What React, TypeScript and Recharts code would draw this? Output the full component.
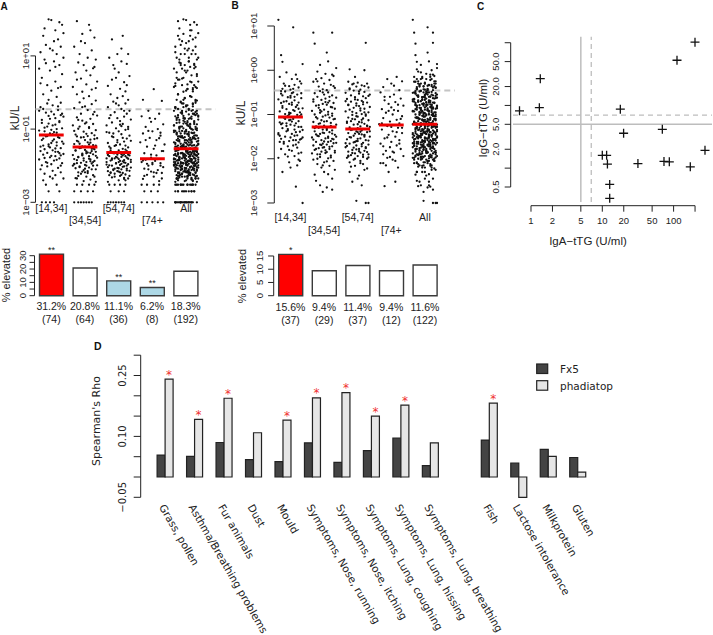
import React from 'react';
import {
  ScatterChart,
  Scatter,
  BarChart,
  Bar,
  XAxis,
  YAxis,
  ReferenceLine,
  LabelList,
  Legend,
  Cell
} from 'recharts';

const ageGroups = ['[14,34]', '[34,54]', '[54,74]', '[74+', 'All'];
const cutoff = 0.35; // kU/L, grey dashed line

// A: Fx5 per age group, each point = [jitter step, log10 kU/L]
const fx5Age14 = [
  [-2, 2.0], [0, 1.98], [3, 1.7], [8, 1.85], [-6, 1.55], [5, 1.45], [-4, 1.3], [7, 1.25], [1, 1.15], [-8, 1.1], [4, 1.05], [9, 1.62],
  [-5, 0.9], [2, 0.85], [6, 0.75], [-1, 0.6], [8, 0.5], [-7, 0.4], [3, 0.3], [-3, 0.2], [5, 0.12], [0, 0.05], [-9, 0.65], [9, 0.95],
  [-6, -0.05], [4, -0.12], [-2, -0.2], [7, -0.28], [1, -0.35], [-8, -0.4], [5, -0.48], [-4, -0.55], [2, -0.6], [9, -0.66], [-1, -0.72], [6, -0.78],
  [-7, -0.83], [3, -0.88], [-3, -0.93], [8, -0.98], [0, -1.02], [-5, -1.06], [4, -1.1], [-9, -0.5], [7, -0.62], [-2, -0.85], [1, -1.14],
  [-4, -1.2], [6, -1.24], [2, -1.28], [-7, -1.3], [8, -1.34], [0, -1.38], [-2, -1.42], [4, -1.45], [-8, -1.48], [7, -1.52], [-5, -1.55], [1, -1.58],
  [5, -1.62], [-3, -1.65], [9, -1.68], [-6, -1.7], [3, -1.74], [-1, -1.77], [6, -1.8], [-9, -1.83], [2, -1.86], [-4, -1.9], [8, -1.93], [0, -1.96],
  [-7, -1.99], [4, -1.36], [-1, -1.5], [3, -1.62], [-6, -1.45], [7, -1.72],
  [-3, -2.02], [5, -2.06], [-8, -2.1], [1, -2.14], [7, -2.18], [-5, -2.22], [3, -2.26], [-1, -2.3], [9, -2.35], [-6, -2.4],
  [-4, -2.52], [4, -2.52], [-2, -2.7], [6, -2.7], [-7, -3], [-4, -3], [-1, -3], [2, -3],
  [2, 1.4], [-5, 1.75], [6, 1.92], [-1, 1.2], [3, 0.7], [-8, 0.25], [7, 0.15], [-4, 0.8],
  [-3, -0.3], [5, -0.38], [-6, -0.45], [0, -0.52], [8, -0.58], [-2, -0.64], [3, -0.7], [-7, -0.75], [6, -0.81], [1, -0.9], [-5, -0.96], [4, -1.0],
  [-9, -1.04], [2, -1.08], [-1, -1.12], [-3, -1.19], [5, -1.22], [-6, -1.26], [1, -1.32], [9, -1.4], [-2, -1.47], [3, -1.53], [-8, -1.6], [6, -1.66],
  [0, -1.73], [-5, -1.79], [4, -1.84], [-3, -1.92], [7, -2.0], [1, -2.35]
];
const fx5Age34 = [
  [-6, 1.95], [3, 1.85], [-2, 1.6], [7, 1.5], [0, 1.35], [-8, 1.25], [5, 1.15], [-4, 1.05],
  [2, 0.95], [8, 0.9], [-5, 0.82], [-1, 0.75], [6, 0.66], [-7, 0.55], [4, 0.47], [-3, 0.38], [9, 0.3], [1, 0.22], [-9, 0.15], [5, 0.08], [-2, 0.02], [7, 0.7],
  [-6, -0.05], [3, -0.1], [-1, -0.16], [8, -0.22], [-4, -0.27], [5, -0.32], [0, -0.38], [-8, -0.43], [2, -0.48], [7, -0.53], [-3, -0.58], [9, -0.63],
  [-6, -0.68], [4, -0.72], [-2, -0.77], [1, -0.82], [6, -0.86], [-9, -0.9], [3, -0.95], [-5, -0.99], [8, -1.03], [-1, -1.07], [5, -1.11], [-7, -1.15],
  [2, -1.19], [-3, -1.23], [7, -1.27], [0, -1.3], [-5, -1.34], [4, -1.37], [-8, -1.41], [6, -1.44], [-2, -1.47], [1, -1.13], [9, -1.25], [-4, -0.93],
  [3, -1.42], [-6, -1.2],
  [-4, -1.52], [5, -1.54], [0, -1.57], [-7, -1.59], [8, -1.62], [2, -1.64], [-2, -1.67], [6, -1.69], [-9, -1.71], [3, -1.74], [-5, -1.76], [9, -1.78],
  [-1, -1.8], [4, -1.83], [-6, -1.85], [7, -1.87], [1, -1.9], [-3, -1.92], [5, -1.94], [-8, -1.96], [0, -1.98], [6, -2.0], [-4, -2.02], [3, -2.05],
  [-7, -2.07], [8, -2.1], [-1, -2.12], [2, -2.15], [-5, -2.18], [5, -1.6], [-2, -1.72], [1, -1.66], [-6, -1.93], [7, -1.55], [4, -1.88], [-8, -1.82],
  [0, -2.08], [9, -1.99],
  [-3, -2.22], [6, -2.26], [1, -2.3], [-7, -2.34], [4, -2.38], [-1, -2.42], [8, -2.44], [-5, -2.28],
  [-6, -2.52], [-2, -2.52], [3, -2.52], [7, -2.52], [-8, -2.7], [-3, -2.7], [2, -2.7], [6, -2.7],
  [-8, -3], [-5, -3], [-3, -3], [-1, -3], [1, -3], [3, -3], [5, -3],
  [4, 1.7], [-3, 1.4], [1, 0.6], [-6, 0.35], [8, 0.12],
  [-2, -0.4], [6, -0.6], [-5, -0.75], [0, -0.85], [3, -0.97], [-8, -1.05], [7, -1.17], [-1, -1.22], [4, -1.29], [-6, -1.32], [2, -1.36], [-4, -1.4],
  [8, -1.45], [0, -1.48], [-3, -1.51], [6, -1.53], [-7, -1.58], [1, -1.61], [4, -1.65], [-2, -1.7], [8, -1.73], [-5, -1.77], [3, -1.81], [-1, -1.86],
  [6, -1.9], [-8, -1.95], [1, -2.0], [-4, -2.04], [5, -2.1], [-2, -2.16], [2, -2.2], [-6, -2.35], [0, -2.18], [7, -2.3], [-9, -2.0]
];
const fx5Age54 = [
  [-5, 1.45], [3, 1.55], [-1, 1.05], [7, 1.05],
  [-7, 0.95], [2, 0.85], [6, 0.78], [-3, 0.65], [0, 0.55], [8, 0.45], [-5, 0.35], [4, 0.28], [-8, 0.18], [1, 0.1], [5, 0.03], [-2, 0.4],
  [-6, -0.05], [3, -0.1], [-1, -0.15], [7, -0.2], [-4, -0.25], [5, -0.3], [0, -0.35], [-8, -0.4], [2, -0.45], [8, -0.5], [-3, -0.54], [6, -0.58],
  [-6, -0.62], [4, -0.66], [-1, -0.7], [9, -0.74], [1, -0.78], [-5, -0.82], [3, -0.86], [-9, -0.9], [7, -0.94], [-2, -0.98], [5, -1.02], [0, -1.06],
  [-7, -1.1], [2, -1.14], [8, -1.18], [-4, -1.22], [6, -1.26], [-1, -1.3], [4, -1.34], [-8, -1.38], [1, -1.42], [-3, -1.46], [7, -1.5], [3, -1.54],
  [-6, -1.58], [0, -1.62], [-5, -1.2], [9, -1.32], [-2, -1.44], [5, -1.56], [-9, -1.08], [2, -0.92], [-7, -1.48], [6, -1.6],
  [-4, -1.66], [4, -1.68], [-1, -1.7], [8, -1.72], [-7, -1.74], [2, -1.76], [6, -1.78], [-3, -1.8], [0, -1.82], [9, -1.84], [-6, -1.86], [3, -1.88],
  [-9, -1.9], [5, -1.92], [-2, -1.94], [7, -1.96], [1, -1.98], [-5, -2.0], [4, -2.02], [-8, -2.04], [-1, -2.06], [6, -2.08], [2, -2.1], [-4, -2.12],
  [8, -2.14], [0, -2.16], [-6, -2.18], [3, -2.2], [-3, -2.22], [5, -2.24], [-7, -2.26], [1, -2.28], [7, -1.7], [-2, -1.76], [4, -1.85], [-9, -1.97],
  [9, -2.05], [-5, -1.8], [0, -1.9], [6, -2.0], [-1, -2.15], [3, -1.72], [-8, -1.68], [2, -1.95], [-3, -2.08],
  [-5, -2.32], [4, -2.36], [0, -2.4], [-8, -2.44], [7, -2.35],
  [-7, -2.52], [-3, -2.52], [1, -2.52], [5, -2.52], [-6, -2.7], [0, -2.7], [4, -2.7],
  [-8, -3], [-6, -3], [-4, -3], [-2, -3], [0, -3], [2, -3], [4, -3],
  [2, 1.2], [-4, 0.75], [6, 0.2],
  [-2, -0.3], [4, -0.5], [-7, -0.7], [1, -0.88], [7, -1.0], [-4, -1.12], [3, -1.24], [-1, -1.36], [5, -1.45], [-6, -1.52], [0, -1.58], [8, -1.63],
  [-3, -1.66], [2, -1.69], [-8, -1.71], [5, -1.74], [-1, -1.78], [7, -1.81], [-5, -1.84], [1, -1.87], [4, -1.91], [-2, -1.93], [-7, -1.99], [3, -2.03],
  [0, -2.07], [-4, -2.1], [6, -2.13], [-6, -2.2], [2, -2.25], [8, -2.28], [-3, -2.3], [1, -2.18], [5, -2.4], [-8, -2.15], [9, -1.9], [-9, -1.8], [4, -2.33]
];
const fx5Age74 = [
  [1, 0.09], [-7, -0.2], [7, -0.23],
  [-3, -0.5], [5, -0.58], [-8, -0.65], [2, -0.72], [-1, -0.8], [8, -0.87], [-5, -0.94], [4, -1.0], [0, -1.06], [-7, -1.12], [6, -1.18], [-2, -1.24],
  [3, -1.3], [-9, -1.36], [9, -1.42], [-4, -1.48], [1, -1.54], [7, -1.6], [-6, -1.66], [3, -1.72], [-1, -1.78], [5, -1.25], [-3, -1.05],
  [-5, -1.84], [2, -1.87], [-8, -1.9], [6, -1.93], [0, -1.96], [-3, -2.0], [8, -2.04], [-6, -2.08], [4, -2.12], [-1, -2.16], [7, -2.2], [-4, -2.25],
  [1, -2.3], [-7, -2.36], [5, -2.42],
  [-8, -2.52], [-4, -2.52], [1, -2.52], [5, -2.52], [-6, -2.7], [-1, -2.7], [4, -2.7],
  [-8, -3], [-4, -3], [0, -3], [4, -3], [8, -3],
  [-2, -0.7], [6, -1.1], [-5, -1.3], [2, -1.45], [8, -1.6], [-1, -1.7], [4, -1.82], [-7, -1.86], [0, -1.92], [6, -2.0], [-3, -2.1], [3, -2.2],
  [-6, -2.28], [1, -2.18], [-4, -1.95], [7, -2.35]
];
const fx5Medians = [-1.16, -1.49, -1.64, -1.81, -1.54];
const fx5Elevated = [31.2, 20.8, 11.1, 6.2, 18.3];
const fx5ElevatedN = [74, 64, 36, 8, 192];
const fx5Stars = ['**', '', '**', '**', ''];

// B: phadiatop per age group, [jitter step, log10 kU/L]
const phadAge14 = [
  [-9, 1.14], [2, 0.97], [-7, 0.34], [-6, 0.19], [9, 0.14],
  [-3, -0.05], [4, -0.1], [-8, -0.15], [1, -0.2], [7, -0.25], [-5, -0.3], [3, -0.33], [-1, -0.36], [6, -0.39], [-6, -0.42], [0, -0.44], [8, -0.3],
  [-4, -0.48], [2, -0.5], [-7, -0.53], [5, -0.55], [0, -0.58], [-2, -0.61], [8, -0.63], [-9, -0.66], [3, -0.68], [-5, -0.71], [6, -0.73], [-1, -0.76],
  [1, -0.78], [-6, -0.81], [4, -0.83], [9, -0.86], [-3, -0.88], [2, -0.9], [-8, -0.93], [7, -0.95], [0, -0.97], [-4, -0.99], [5, -1.01], [-2, -1.03],
  [3, -0.6], [-7, -0.74], [6, -0.87], [-1, -0.96], [1, -0.52], [8, -1.0],
  [-5, -1.07], [2, -1.1], [-1, -1.13], [6, -1.15], [-8, -1.18], [4, -1.2], [0, -1.23], [-3, -1.26], [8, -1.28], [-6, -1.31], [3, -1.34], [-2, -1.36],
  [7, -1.39], [-9, -1.42], [1, -1.44], [5, -1.47], [-4, -1.5], [9, -1.52], [-7, -1.55], [2, -1.58], [-1, -1.6], [6, -1.63], [-5, -1.66], [4, -1.68],
  [0, -1.12], [-3, -1.38], [3, -1.25], [-8, -1.48], [7, -1.57], [-6, -1.2],
  [-2, -1.72], [5, -1.75], [-7, -1.78], [1, -1.82], [8, -1.86], [-4, -1.9], [3, -1.94], [-9, -1.98], [6, -2.02], [-1, -2.08],
  [5, -2.15], [-6, -2.3], [4, -2.63], [9, -3],
  [5, -0.2], [-4, -0.35], [2, -0.42], [-7, -0.47], [8, -0.52], [0, -0.62], [-3, -0.7], [5, -0.79], [-6, -0.85], [3, -0.92], [-1, -1.0], [7, -1.04],
  [-4, -1.1], [1, -1.16], [-7, -1.22], [6, -1.28], [-2, -1.33], [4, -1.4], [-9, -1.45], [0, -1.52], [8, -1.55], [-5, -1.62], [2, -1.7], [-1, -1.8],
  [6, -1.88], [-8, -1.62], [3, -1.48], [-3, -1.2], [9, -1.35], [1, -0.73], [-6, -0.57], [4, -1.58], [-2, -1.95], [7, -2.05], [0, -2.2]
];
const phadAge34 = [
  [-8, 0.85], [6, 0.85], [-7, 0.6], [3, 0.2], [-3, 0.12], [9, 0.05],
  [-5, -0.03], [1, -0.08], [7, -0.13], [-2, -0.18], [4, -0.22], [-8, -0.26], [0, -0.3], [5, -0.33], [-4, -0.37], [8, -0.4], [-1, -0.43], [2, -0.45],
  [-6, -0.2], [6, -0.1],
  [-3, -0.47], [3, -0.5], [-7, -0.52], [0, -0.55], [6, -0.57], [-5, -0.6], [9, -0.62], [1, -0.64], [-2, -0.67], [4, -0.69], [-8, -0.71], [7, -0.74],
  [-1, -0.76], [2, -0.78], [-6, -0.8], [5, -0.83], [-4, -0.85], [8, -0.87], [0, -0.89], [-9, -0.92], [3, -0.94], [-3, -0.96], [6, -0.98], [-7, -1.0],
  [1, -1.02], [-1, -1.05], [4, -1.07], [-5, -1.09], [7, -1.11], [-2, -1.13], [2, -1.15], [-8, -1.17], [5, -1.19], [-4, -1.21], [9, -1.23], [0, -1.25],
  [-6, -1.27], [3, -0.73], [-3, -0.9], [6, -1.03],
  [-4, -1.3], [2, -1.32], [-1, -1.34], [6, -1.36], [-7, -1.38], [4, -1.4], [0, -1.42], [-3, -1.44], [8, -1.46], [-5, -1.48], [3, -1.5], [-9, -1.52],
  [1, -1.54], [7, -1.56], [-2, -1.58], [5, -1.6], [-6, -1.62], [9, -1.64], [-1, -1.66], [2, -1.68], [-8, -1.7], [6, -1.72], [0, -1.74], [-4, -1.76],
  [4, -1.78], [-7, -1.8], [8, -1.82], [-2, -1.84], [1, -1.87], [-5, -1.9], [5, -1.93], [-3, -1.96], [3, -1.99], [-8, -2.02], [7, -2.05], [0, -2.08],
  [-6, -1.45], [3, -1.62], [-1, -1.75], [6, -1.55], [-3, -1.68], [2, -1.85],
  [-5, -2.12], [4, -2.16], [-2, -2.2], [8, -2.25], [0, -2.3], [-7, -2.36], [6, -2.45], [-3, -2.6], [2, -2.65], [-1, -2.75],
  [2, 0.4], [-5, -0.25], [7, -0.36], [-1, -0.5], [4, -0.6], [-8, -0.66], [1, -0.72], [-4, -0.79], [6, -0.84], [-2, -0.93], [3, -1.0], [-6, -1.06],
  [8, -1.1], [0, -1.16], [-3, -1.2], [5, -1.26], [-7, -1.31], [2, -1.35], [-1, -1.41], [6, -1.43], [-4, -1.49], [3, -1.53], [-8, -1.57], [0, -1.61],
  [7, -1.65], [-2, -1.69], [4, -1.73], [-6, -1.78], [1, -1.81], [8, -1.86], [-3, -1.9], [5, -1.97], [-5, -2.0], [2, -2.06], [-9, -1.88], [9, -1.5],
  [-1, -2.15], [3, -2.35], [-6, -2.5], [6, -2.7]
];
const phadAge54 = [
  [6, 0.62], [-6, 0.02], [5, 0.0], [-2, -0.15],
  [-7, -0.26], [0, -0.28], [7, -0.3], [-4, -0.32], [3, -0.34], [-1, -0.37], [8, -0.39], [-6, -0.41], [2, -0.44], [-3, -0.46], [5, -0.49], [-9, -0.51],
  [1, -0.53], [9, -0.55], [-5, -0.57], [4, -0.59],
  [-2, -0.61], [6, -0.63], [-8, -0.65], [0, -0.67], [3, -0.69], [-5, -0.71], [7, -0.73], [-1, -0.75], [4, -0.77], [-7, -0.79], [1, -0.81], [9, -0.83],
  [-3, -0.85], [5, -0.87], [-6, -0.89], [2, -0.91], [-9, -0.93], [8, -0.95], [-1, -0.97], [3, -0.99], [-4, -1.01], [6, -1.03], [0, -1.05], [-7, -1.07],
  [4, -1.09], [-2, -1.11], [8, -1.13], [-5, -1.15], [1, -1.17], [-8, -1.19], [5, -1.21], [-3, -1.23], [7, -1.25], [2, -1.27], [-6, -1.29], [0, -1.31],
  [-1, -0.8], [5, -0.95], [-4, -1.1], [3, -1.18], [-9, -0.7], [9, -1.28],
  [-4, -1.34], [3, -1.36], [-1, -1.38], [7, -1.4], [-7, -1.42], [1, -1.44], [5, -1.46], [-3, -1.48], [9, -1.5], [-5, -1.52], [2, -1.54], [-8, -1.56],
  [6, -1.58], [0, -1.6], [-2, -1.62], [4, -1.64], [-6, -1.66], [8, -1.68], [-1, -1.7], [3, -1.72], [-9, -1.74], [6, -1.76], [1, -1.78], [-4, -1.8],
  [5, -1.82], [-7, -1.84], [2, -1.86], [-2, -1.88], [8, -1.9], [-5, -1.92], [0, -1.94], [4, -1.96], [-8, -1.98], [7, -2.0], [-3, -2.02], [2, -2.05],
  [-6, -2.08], [5, -1.5], [-1, -1.6], [3, -1.45], [-3, -1.75], [7, -1.85], [0, -1.4], [-7, -1.95],
  [4, -2.12], [-2, -2.16], [7, -2.22], [-6, -2.3], [1, -2.38], [-4, -2.52], [3, -2.6], [-1, -2.95], [6, -3], [8, -3],
  [-3, -0.3], [5, -0.36], [-6, -0.43], [1, -0.48], [8, -0.58], [-2, -0.66], [4, -0.72], [-7, -0.78], [2, -0.86], [-4, -0.94], [6, -1.0], [-1, -1.04],
  [3, -1.12], [-8, -1.16], [0, -1.22], [7, -1.26], [-5, -1.35], [2, -1.39], [-2, -1.43], [5, -1.47], [-6, -1.51], [0, -1.55], [8, -1.59], [-3, -1.63],
  [3, -1.67], [-8, -1.71], [6, -1.74], [-1, -1.79], [1, -1.83], [-4, -1.87], [4, -1.91], [-7, -1.93], [8, -1.97], [-2, -2.0], [2, -2.1], [-5, -2.18],
  [5, -2.25], [0, -2.45], [-9, -1.65], [9, -1.38]
];
const phadAge74 = [
  [4, -0.15], [-3, -0.2], [8, -0.25], [0, -0.3], [-6, -0.38], [6, -0.45],
  [-8, -0.5], [2, -0.55], [-1, -0.6], [7, -0.64], [-5, -0.68], [3, -0.72], [-2, -0.76], [9, -0.8], [0, -0.84], [-7, -0.88], [5, -0.92], [-4, -0.96],
  [1, -1.0], [8, -1.04], [-6, -1.08], [4, -1.12], [-1, -1.16], [6, -1.2], [-9, -1.22], [2, -0.9],
  [-3, -1.26], [5, -1.3], [-7, -1.34], [1, -1.38], [8, -1.42], [-2, -1.46], [3, -1.5], [-5, -1.54], [6, -1.58], [0, -1.62], [-8, -1.66], [4, -1.7],
  [-1, -1.74], [7, -1.78], [-4, -1.82], [2, -1.86], [-6, -1.9], [9, -1.94], [-3, -1.98], [1, -2.02],
  [-8, -2.1], [-6, -2.1], [5, -2.2], [-2, -2.3], [3, -2.52], [-5, -2.62],
  [2, -0.35], [-5, -0.6], [5, -0.78], [-2, -0.92], [7, -1.1], [-7, -1.2], [0, -1.28], [4, -1.4], [-3, -1.52], [6, -1.66], [-6, -1.72], [1, -1.84],
  [-1, -1.96], [3, -2.05], [-4, -2.15], [8, -1.3]
];
const phadMedians = [-1.054, -1.28, -1.325, -1.24, -1.22];
const phadElevated = [15.6, 9.4, 11.4, 9.4, 11.6];
const phadElevatedN = [37, 29, 37, 12, 122];
const phadStars = ['*', '', '', '', ''];

// C: tTG antibodies, U/ml
const igaTTG = [0.69, 1.31, 1.35, 17.9, 19.9, 10.0, 11.5, 11.8, 12.7, 12.7, 31.6, 69.5, 73.3, 87.1, 111.6, 199.6, 171.5, 275.6];
const iggTTG = [8.2, 9.2, 26.7, 8.7, 3.6, 1.6, 1.6, 1.16, 0.55, 0.33, 1.18, 4.16, 1.28, 1.26, 52.5, 102, 1.05, 1.92];
const ttgCutoff = 5;
const ttgCutoffAlt = 7;

// D: Spearman's rho per questionnaire item
const conditions = [
  'Grass, pollen', 'Asthma/Breathing problems', 'Fur animals', 'Dust', 'Mould',
  'Symptoms, Nose, running', 'Symptoms, Nose, itching', 'Symptoms, Lung, coughing',
  'Symptoms, Lung, hissing', 'Symptoms, Lung, breathing', '',
  'Fish', 'Lactose intolerance', 'Milkprotein', 'Gluten'
];
const rhoFx5 = [0.054, 0.051, 0.085, 0.043, 0.038, 0.084, 0.036, 0.065, 0.096, 0.028, null, 0.091, 0.034, 0.068, 0.048];
const rhoPhad = [0.241, 0.142, 0.194, 0.109, 0.14, 0.195, 0.208, 0.15, 0.177, 0.084, null, 0.182, -0.05, 0.051, 0.012];
const rhoPhadSig = [1, 1, 1, 0, 1, 1, 1, 1, 1, 0, 0, 1, 0, 0, 0];

const FONT = '"Liberation Sans", Arial, sans-serif';
const DFONT = '"DejaVu Sans", sans-serif';
const INK = '#222';
const JIT = 0.04;
const ageFills = ['#ff0000', '#ffffff', '#add8e6', '#add8e6', '#ffffff'];
const phadFills = ['#ff0000', '#ffffff', '#ffffff', '#ffffff', '#ffffff'];
const fx5Color = '#444444';
const phadColor = '#e6e6e6';

const cloud = (pts: number[][], g: number) => pts.map(([j, v]) => ({ x: g + j * JIT, y: v }));

const dot = (p: any) => <circle cx={p.cx} cy={p.cy} r={1.15} fill="#111" />;
const medianBar = (p: any) => (
  <line x1={p.cx - 12.4} x2={p.cx + 12.4} y1={p.cy} y2={p.cy} stroke="#ee0000" strokeWidth={3} />
);
const cross = (p: any) => (
  <g stroke="#111" strokeWidth={1.3}>
    <line x1={p.cx - 4.5} x2={p.cx + 4.5} y1={p.cy} y2={p.cy} />
    <line x1={p.cx} x2={p.cx} y1={p.cy - 4.5} y2={p.cy + 4.5} />
  </g>
);

const expLabel = (v: number) => '1e' + (v < 0 ? '\u2212' : '+') + String(Math.abs(v)).padStart(2, '0');

const vText = (x: number, y: number, label: string, size: number, family = FONT) => (
  <text x={x} y={y} transform={`rotate(-90 ${x} ${y})`} textAnchor="middle" dominantBaseline="central"
    fontSize={size} fontFamily={family} fill={INK}>{label}</text>
);

const box = (p: any) => ({
  x: p.x ?? p.viewBox?.x,
  y: p.y ?? p.viewBox?.y,
  w: p.width ?? p.viewBox?.width
});

function CloudPanel({ groups, medians, left, width, height, margin, yWidth, xHeight, xDomain, yDomain, yTicks, yLabelX, tickSize, rowY }: any) {
  const all = groups.flat();
  return (
    <div style={{ position: 'absolute', left, top: 0 }}>
      <ScatterChart width={width} height={height} margin={margin}>
        <XAxis type="number" dataKey="x" domain={xDomain} allowDataOverflow ticks={[1, 2, 3, 4, 5]} interval={0}
          axisLine={false} tickLine={false} height={xHeight}
          tick={(p: any) => {
            const i = p.payload.value - 1;
            return <text x={p.x} y={rowY[i % 2]} textAnchor="middle" dominantBaseline="central" fontSize={10.5}
              fontFamily={FONT} fill={INK}>{ageGroups[i]}</text>;
          }} />
        <YAxis type="number" dataKey="y" domain={yDomain} allowDataOverflow ticks={yTicks} interval={0} width={yWidth}
          axisLine={false} tickSize={tickSize} tickLine={{ stroke: INK }}
          tick={(p: any) => vText(yLabelX, p.y, expLabel(p.payload.value), 9.5)} />
        <ReferenceLine segment={[{ x: xDomain[0], y: -3 }, { x: xDomain[0], y: 1 }]} stroke={INK} ifOverflow="visible" />
        {groups.map((pts: number[][], i: number) => (
          <Scatter key={i} data={cloud(pts, i + 1)} shape={dot} isAnimationActive={false} />
        ))}
        <Scatter data={cloud(all, 5)} shape={dot} isAnimationActive={false} />
        <ReferenceLine y={Math.log10(cutoff)} stroke="#c4c4c4" strokeWidth={2} strokeDasharray="6 4" />
        <Scatter data={medians.map((m: number, i: number) => ({ x: i + 1, y: m }))} shape={medianBar} isAnimationActive={false} />
      </ScatterChart>
    </div>
  );
}

function ElevatedPanel({ values, counts, stars, fills, left, width, margin, yWidth, yMax, yTicks, yLabels, yLabelX, tickSize, pctY, nY }: any) {
  const data = values.map((v: number, i: number) => ({ pos: i + 1, pct: v, n: counts[i], star: stars[i] }));
  return (
    <div style={{ position: 'absolute', left, top: 240 }}>
      <BarChart width={width} height={90} margin={margin} data={data}>
        <XAxis type="number" dataKey="pos" domain={[0.5, 5.5]} ticks={[1, 2, 3, 4, 5]} interval={0}
          axisLine={false} tickLine={false} height={34.3}
          tick={(p: any) => {
            const i = p.payload.value - 1;
            return (
              <g fontSize={10.5} fontFamily={FONT} fill={INK} textAnchor="middle">
                <text x={p.x} y={pctY} dominantBaseline="central">{values[i].toFixed(1)}%</text>
                <text x={p.x} y={nY} dominantBaseline="central">({counts[i]})</text>
              </g>
            );
          }} />
        <YAxis type="number" domain={[0, yMax]} ticks={yTicks} interval={0} width={yWidth}
          axisLine={false} tickSize={tickSize} tickLine={{ stroke: INK }}
          tick={(p: any) => {
            const v = p.payload.value;
            return yLabels.includes(v) ? vText(yLabelX, p.y, String(v), 9.5) : <g />;
          }} />
        <ReferenceLine segment={[{ x: 0.5, y: 0 }, { x: 0.5, y: yTicks[yTicks.length - 1] }]} stroke={INK} ifOverflow="visible" />
        <Bar dataKey="pct" barSize={24} stroke="#3a3a3a" strokeWidth={1.4} isAnimationActive={false}>
          {data.map((d: any, i: number) => <Cell key={i} fill={fills[i]} />)}
          <LabelList dataKey="star" content={(p: any) => {
            if (!p.value) return null;
            const b = box(p);
            return <text x={b.x + b.w / 2} y={b.y - 1} textAnchor="middle" fontSize={9} fontFamily={FONT} fill={INK}>{p.value}</text>;
          }} />
        </Bar>
      </BarChart>
    </div>
  );
}

function TtgPanel() {
  const data = igaTTG.map((a, i) => ({ x: Math.log10(a), y: Math.log10(iggTTG[i]) }));
  const xTicks = [1, 2, 5, 10, 20, 50, 100, 200];
  const yTicks = [0.5, 1, 2, 5, 10, 20, 50, 100];
  const yShown = [0.5, 2, 5, 20, 50];
  const xDom = [-0.2847, 2.5386];
  const yDom = [-0.5992, 2.096];
  const grey = '#bdbdbd';
  return (
    <div style={{ position: 'absolute', left: 465, top: 20 }}>
      <ScatterChart width={248} height={235} margin={{ top: 16.7, right: 1, bottom: 0, left: 0 }}>
        <XAxis type="number" dataKey="x" domain={xDom} allowDataOverflow ticks={xTicks.map(Math.log10)} interval={0}
          axisLine={false} tickSize={6} tickLine={{ stroke: INK }} height={49.3}
          tick={(p: any) => {
            const v = Math.round(Math.pow(10, p.payload.value));
            return <text x={p.x} y={200} textAnchor="middle" dominantBaseline="central" fontSize={9.5}
              fontFamily={FONT} fill={INK}>{v === 200 ? '' : v}</text>;
          }} />
        <YAxis type="number" dataKey="y" domain={yDom} allowDataOverflow ticks={yTicks.map(Math.log10)} interval={0} width={45.7}
          axisLine={false} tickSize={6} tickLine={{ stroke: INK }}
          tick={(p: any) => {
            const v = Math.pow(10, p.payload.value);
            const shown = yShown.find(s => Math.abs(s - v) < 1e-6);
            return shown ? vText(30.5, p.y, shown.toFixed(1), 9.5) : <g />;
          }} />
        <ReferenceLine segment={[{ x: 0, y: yDom[0] }, { x: Math.log10(200), y: yDom[0] }]} stroke={INK} ifOverflow="visible" />
        <ReferenceLine segment={[{ x: xDom[0], y: Math.log10(0.5) }, { x: xDom[0], y: 2 }]} stroke={INK} ifOverflow="visible" />
        <ReferenceLine segment={[{ x: Math.log10(ttgCutoff), y: -0.5402 }, { x: Math.log10(ttgCutoff), y: yDom[1] }]} stroke={grey} strokeWidth={1.5} ifOverflow="visible" />
        <ReferenceLine segment={[{ x: Math.log10(ttgCutoffAlt), y: -0.5402 }, { x: Math.log10(ttgCutoffAlt), y: yDom[1] }]} stroke={grey} strokeWidth={1.3} strokeDasharray="5 4" ifOverflow="visible" />
        <ReferenceLine segment={[{ x: -0.2525, y: Math.log10(ttgCutoff) }, { x: xDom[1], y: Math.log10(ttgCutoff) }]} stroke={grey} strokeWidth={1.5} ifOverflow="visible" />
        <ReferenceLine segment={[{ x: -0.2525, y: Math.log10(ttgCutoffAlt) }, { x: xDom[1], y: Math.log10(ttgCutoffAlt) }]} stroke={grey} strokeWidth={1.3} strokeDasharray="5 4" ifOverflow="visible" />
        <Scatter data={data} shape={cross} isAnimationActive={false} />
      </ScatterChart>
    </div>
  );
}

function RhoPanel() {
  const data = conditions.map((c, i) => ({ name: c, fx5: rhoFx5[i], phad: rhoPhad[i], sig: rhoPhadSig[i] }));
  const ticks = [-0.05, 0, 0.05, 0.1, 0.15, 0.2, 0.25, 0.3];
  const shown: [number, string][] = [[-0.05, '\u22120.05'], [0.1, '0.10'], [0.25, '0.25']];
  const legendItems = [{ name: 'Fx5', fill: fx5Color }, { name: 'phadiatop', fill: phadColor }];
  return (
    <div style={{ position: 'absolute', left: 0, top: 330 }}>
      <BarChart width={713} height={305} margin={{ top: 25.2, right: 113, bottom: 7.7, left: 80.7 }} data={data} barGap={0} barSize={8}>
        <XAxis dataKey="name" interval={0} axisLine={false} tickLine={false} height={130} padding={{ left: 9.4, right: 7.8 }}
          tick={(p: any) => {
            const label = p.payload.value;
            if (!label) return <g />;
            const x = p.x - 6;
            const y = 177;
            return <text x={x} y={y} transform={`rotate(60 ${x} ${y})`} fontSize={10.5} fontFamily={DFONT} fill={INK}>{label}</text>;
          }} />
        <YAxis type="number" domain={[-0.05, 0.3]} ticks={ticks} interval={0} width={60} tickSize={7}
          axisLine={{ stroke: INK }} tickLine={{ stroke: INK }}
          tick={(p: any) => {
            const hit = shown.find(s => Math.abs(s[0] - p.payload.value) < 1e-9);
            return hit ? vText(122.5, p.y, hit[1], 10, DFONT) : <g />;
          }} />
        <Bar dataKey="fx5" fill={fx5Color} stroke="#222" strokeWidth={1.2} isAnimationActive={false} />
        <Bar dataKey="phad" fill={phadColor} stroke="#222" strokeWidth={1.2} isAnimationActive={false}>
          <LabelList dataKey="sig" content={(p: any) => {
            if (p.value !== 1) return null;
            const b = box(p);
            return <text x={b.x + b.w / 2} y={b.y - 0.5} textAnchor="middle" fontSize={12} fontFamily={DFONT} fill="#f03030">*</text>;
          }} />
        </Bar>
        <Legend layout="vertical" align="center" verticalAlign="middle" wrapperStyle={{ left: 535, top: 33, width: 130 }}
          content={() => (
            <svg width={130} height={32}>
              {legendItems.map((it, i) => (
                <g key={it.name}>
                  <rect x={1.7} y={1 + i * 16.7} width={11} height={9.5} fill={it.fill} stroke="#222" strokeWidth={1.2} />
                  <text x={25} y={5.8 + i * 16.7} dominantBaseline="central" fontSize={10.5} fontFamily={DFONT} fill={INK}>{it.name}</text>
                </g>
              ))}
            </svg>
          )} />
      </BarChart>
    </div>
  );
}

export default function App() {
  return (
    <div style={{ position: 'absolute', left: 0, top: 0, width: 713, height: 635, overflow: 'hidden', background: '#fff' }}>
      <CloudPanel groups={[fx5Age14, fx5Age34, fx5Age54, fx5Age74]} medians={fx5Medians}
        left={0} width={230} height={235} margin={{ top: 14, right: 14.3, bottom: 0, left: 0 }}
        yWidth={35.5} xHeight={29} xDomain={[0.5312, 5.878]} yDomain={[-3.101, 2.145]}
        yTicks={[-3, -1, 1]} yLabelX={25.7} tickSize={5} rowY={[208.3, 220]} />
      <CloudPanel groups={[phadAge14, phadAge34, phadAge54, phadAge74]} medians={phadMedians}
        left={236} width={225} height={240} margin={{ top: 15, right: 6, bottom: 0, left: 0 }}
        yWidth={38.3} xHeight={34} xDomain={[0.5179, 5.8958]} yDomain={[-3.0678, 1.2486]}
        yTicks={[-3, -2, -1, 0, 1]} yLabelX={17.3} tickSize={7} rowY={[217.3, 230]} />
      <ElevatedPanel values={fx5Elevated} counts={fx5ElevatedN} stars={fx5Stars} fills={ageFills}
        left={0} width={215} margin={{ top: 7.7, right: 12.5, bottom: 0, left: 0 }} yWidth={34.5}
        yMax={36} yTicks={[0, 5, 10, 15, 20, 25, 30]} yLabels={[0, 10, 20, 30]} yLabelX={23} tickSize={5}
        pctY={66} nY={79.3} />
      <ElevatedPanel values={phadElevated} counts={phadElevatedN} stars={phadStars} fills={phadFills}
        left={236} width={225} margin={{ top: 8.05, right: 19.3, bottom: 0, left: 0 }} yWidth={37.7}
        yMax={18} yTicks={[0, 5, 10, 15]} yLabels={[0, 5, 10, 15]} yLabelX={24} tickSize={5.6}
        pctY={67.3} nY={80} />
      <TtgPanel />
      <RhoPanel />
      <svg width={713} height={635} style={{ position: 'absolute', left: 0, top: 0, pointerEvents: 'none' }}>
        <g fontFamily={FONT} fontWeight="bold" fontSize={10} fill="#111">
          <text x={0.5} y={9.5}>A</text>
          <text x={231.5} y={9.3}>B</text>
          <text x={477} y={9.5}>C</text>
        </g>
        <text x={94} y={350} fontFamily={FONT} fontWeight="bold" fontSize={10.5} fill="#111">D</text>
        {vText(15, 118, 'kU/L', 12)}
        {vText(241, 113, 'kU/L', 12)}
        {vText(5.5, 275, '% elevated', 11)}
        {vText(242, 276, '% elevated', 11)}
        <text x={588} y={241} textAnchor="middle" dominantBaseline="central" fontSize={11.5} fontFamily={FONT} fill={INK}>IgA{'\u2212'}tTG (U/ml)</text>
        {vText(483, 118, 'IgG\u2212tTG (U/ml)', 11.5)}
        {vText(96.7, 421, "Spearman's Rho", 11, DFONT)}
      </svg>
    </div>
  );
}
